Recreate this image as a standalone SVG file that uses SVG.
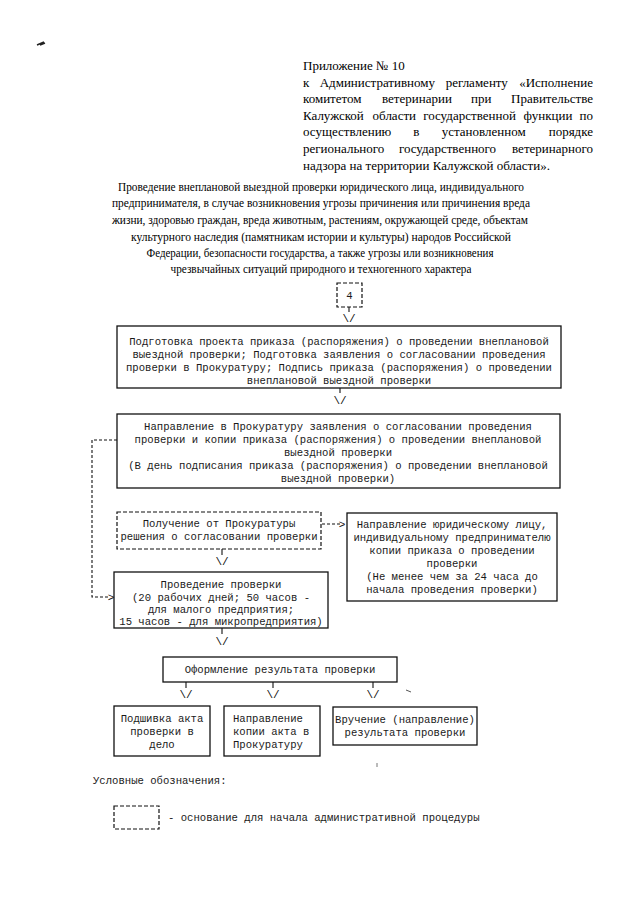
<svg xmlns="http://www.w3.org/2000/svg" width="639" height="905" viewBox="0 0 639 905">
<style>
.bg{fill:#fff}
.serif{font-family:"Liberation Serif","Times New Roman",serif;font-size:13px;fill:#000}
.mono{font-family:"Liberation Mono","Courier New",monospace;font-size:10.6px;fill:#1a1a1a}
.c{text-anchor:middle}
.e{text-anchor:end}
.box{fill:none;stroke:#111;stroke-width:1.3}
.dbox{fill:none;stroke:#111;stroke-width:1.2;stroke-dasharray:4 2}
.ln{stroke:#111;stroke-width:1.1;fill:none}
.dl{stroke:#111;stroke-width:1.1;fill:none;stroke-dasharray:3 2}
.arr{font-family:"Liberation Mono","Courier New",monospace;font-size:11px;fill:#111;text-anchor:middle}
</style>
<rect class="bg" x="0" y="0" width="639" height="905"/>
<path d="M37,45 L44,42 M40,45 L45,43" stroke="#222" stroke-width="1.5"/>
<path d="M406,690 L411,692" stroke="#555" stroke-width="1"/>
<path d="M377,763 L377,767" stroke="#777" stroke-width="1"/>

<g id="header">
<text class="serif" x="303" y="70">Приложение № 10</text>
<text class="serif" y="87"><tspan x="303">к</tspan><tspan x="319.7">Административному</tspan><tspan x="445.7">регламенту</tspan><tspan x="593" class="e">«Исполнение</tspan></text>
<text class="serif" y="103"><tspan x="303">комитетом</tspan><tspan x="382">ветеринарии</tspan><tspan x="471">при</tspan><tspan x="593" class="e">Правительстве</tspan></text>
<text class="serif" y="120"><tspan x="303">Калужской</tspan><tspan x="372.6">области</tspan><tspan x="423.2">государственной</tspan><tspan x="523.6">функции</tspan><tspan x="593" class="e">по</tspan></text>
<text class="serif" y="136"><tspan x="303">осуществлению</tspan><tspan x="413.3">в</tspan><tspan x="441.7">установленном</tspan><tspan x="593" class="e">порядке</tspan></text>
<text class="serif" y="153"><tspan x="303">регионального</tspan><tspan x="398.9">государственного</tspan><tspan x="593" class="e">ветеринарного</tspan></text>
<text class="serif" x="303" y="170">надзора на территории Калужской области».</text>
</g>

<g id="title">
<text class="serif c" x="321" y="191" textLength="406" lengthAdjust="spacingAndGlyphs">Проведение внеплановой выездной проверки юридического лица, индивидуального</text>
<text class="serif c" x="321" y="207" textLength="418" lengthAdjust="spacingAndGlyphs">предпринимателя, в случае возникновения угрозы причинения или причинения вреда</text>
<text class="serif c" x="320" y="224" textLength="416" lengthAdjust="spacingAndGlyphs">жизни, здоровью граждан, вреда животным, растениям, окружающей среде, объектам</text>
<text class="serif c" x="321" y="241" textLength="380" lengthAdjust="spacingAndGlyphs">культурного наследия (памятникам истории и культуры) народов Российской</text>
<text class="serif c" x="320" y="257" textLength="347" lengthAdjust="spacingAndGlyphs">Федерации, безопасности государства, а также угрозы или возникновения</text>
<text class="serif c" x="321" y="273" textLength="301" lengthAdjust="spacingAndGlyphs">чрезвычайных ситуаций природного и техногенного характера</text>
</g>

<g id="connectors">
<path class="ln" d="M349,307 V312"/>
<text class="arr" x="349" y="322">\/</text>
<path class="ln" d="M340,388 V393"/>
<text class="arr" x="340" y="404">\/</text>
<path class="dl" d="M117,440 H92 V597 H110"/>
<text class="arr" x="111" y="601">&gt;</text>
<path class="dl" d="M322,524 H341"/>
<text class="arr" x="342" y="528">&gt;</text>
<path class="ln" d="M222,549 V555"/>
<text class="arr" x="222" y="565">\/</text>
<path class="ln" d="M222,628 V634"/>
<text class="arr" x="222" y="645">\/</text>
<path class="ln" d="M186,682 V688"/>
<text class="arr" x="186" y="698">\/</text>
<path class="ln" d="M273,682 V688"/>
<text class="arr" x="273" y="698">\/</text>
<path class="ln" d="M373,682 V688"/>
<text class="arr" x="373" y="698">\/</text>
</g>

<g id="n4">
<rect class="dbox" x="337" y="283" width="25" height="24"/>
<text class="mono c" x="349.5" y="299">4</text>
</g>

<g id="n1">
<rect class="box" x="117" y="326" width="444" height="62"/>
<text class="mono c" x="339" y="345">Подготовка проекта приказа (распоряжения) о проведении внеплановой</text>
<text class="mono c" x="339" y="358">выездной проверки; Подготовка заявления о согласовании проведения</text>
<text class="mono c" x="339" y="371">проверки в Прокуратуру; Подпись приказа (распоряжения) о проведении</text>
<text class="mono c" x="339" y="384">внеплановой выездной проверки</text>
</g>

<g id="n2">
<rect class="box" x="117" y="414" width="443" height="74"/>
<text class="mono c" x="338" y="430">Направление в Прокуратуру заявления о согласовании проведения</text>
<text class="mono c" x="338" y="443">проверки и копии приказа (распоряжения) о проведении внеплановой</text>
<text class="mono c" x="338" y="456">выездной проверки</text>
<text class="mono c" x="338" y="469">(В день подписания приказа (распоряжения) о проведении внеплановой</text>
<text class="mono c" x="338" y="482">выездной проверки)</text>
</g>

<g id="n3">
<rect class="dbox" x="117" y="512" width="204" height="37"/>
<text class="mono c" x="219" y="527">Получение от Прокуратуры</text>
<text class="mono c" x="219" y="540">решения о согласовании проверки</text>
</g>

<g id="n5">
<rect class="box" x="347" y="513" width="210" height="88"/>
<text class="mono c" x="452" y="528">Направление юридическому лицу,</text>
<text class="mono c" x="452" y="541">индивидуальному предпринимателю</text>
<text class="mono c" x="452" y="554">копии приказа о проведении</text>
<text class="mono c" x="452" y="567">проверки</text>
<text class="mono c" x="452" y="580">(Не менее чем за 24 часа до</text>
<text class="mono c" x="452" y="593">начала проведения проверки)</text>
</g>

<g id="n6">
<rect class="box" x="114" y="572" width="214" height="56"/>
<text class="mono c" x="221" y="588">Проведение проверки</text>
<text class="mono c" x="221" y="601">(20 рабочих дней; 50 часов -</text>
<text class="mono c" x="221" y="613">для малого предприятия;</text>
<text class="mono c" x="221" y="625">15 часов - для микропредприятия)</text>
</g>

<g id="n7">
<rect class="box" x="163" y="657" width="234" height="25"/>
<text class="mono c" x="280" y="673">Оформление результата проверки</text>
</g>

<g id="n8">
<rect class="box" x="114" y="706" width="96" height="50"/>
<text class="mono c" x="162" y="722">Подшивка акта</text>
<text class="mono c" x="162" y="735">проверки в</text>
<text class="mono c" x="162" y="748">дело</text>
</g>

<g id="n9">
<rect class="box" x="224" y="706" width="96" height="50"/>
<text class="mono" x="233" y="722">Направление</text>
<text class="mono" x="233" y="735">копии акта в</text>
<text class="mono" x="233" y="748">Прокуратуру</text>
</g>

<g id="n10">
<rect class="box" x="333" y="707" width="144" height="38"/>
<text class="mono c" x="405" y="723">Вручение (направление)</text>
<text class="mono c" x="405" y="736">результата проверки</text>
</g>

<g id="legend">
<text class="mono" x="93" y="784">Условные обозначения:</text>
<rect class="dbox" x="114" y="806" width="45" height="23"/>
<text class="mono" x="168" y="821">- основание для начала административной процедуры</text>
</g>
</svg>
